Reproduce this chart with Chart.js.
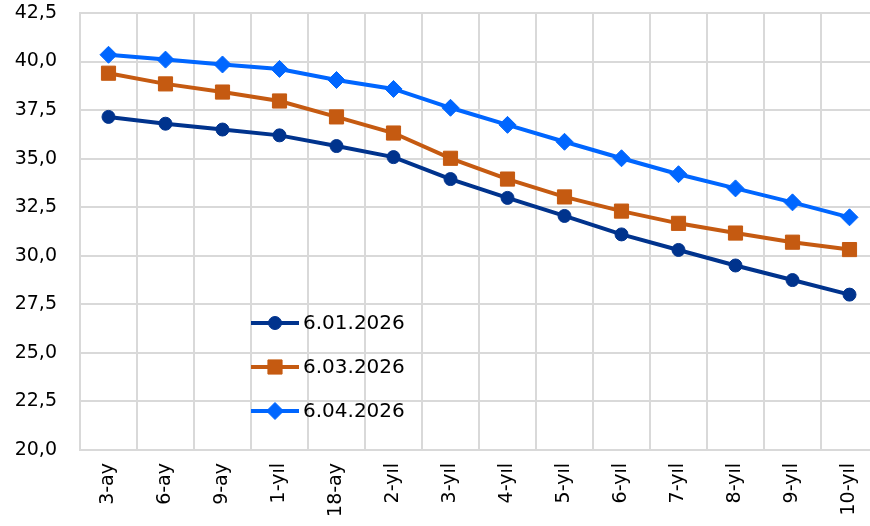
<!DOCTYPE html>
<html>
<head>
<meta charset="utf-8">
<script src="https://cdn.jsdelivr.net/npm/chart.js@4.4.1/dist/chart.umd.min.js"></script>
<style>
  html, body { margin: 0; padding: 0; background: #fff; overflow: hidden; }
  #faizCanvas { display: block; width: 870px; height: 526px; }
</style>
</head>
<body>
<canvas id="faizCanvas" width="870" height="526"></canvas>
<script>
const vadeler = ["3-ay", "6-ay", "9-ay", "1-yıl", "18-ay", "2-yıl", "3-yıl", "4-yıl", "5-yıl", "6-yıl", "7-yıl", "8-yıl", "9-yıl", "10-yıl"];
const seriOcak = [37.15, 36.8, 36.5, 36.2, 35.65, 35.08, 33.95, 32.98, 32.05, 31.1, 30.3, 29.5, 28.75, 28.0];
const seriMart = [39.4, 38.85, 38.43, 37.97, 37.15, 36.32, 35.02, 33.95, 33.03, 32.3, 31.67, 31.17, 30.7, 30.32];
const seriNisan = [40.35, 40.1, 39.85, 39.62, 39.05, 38.59, 37.62, 36.74, 35.87, 35.02, 34.2, 33.47, 32.75, 31.98];
const etiketler = ["6.01.2026", "6.03.2026", "6.04.2026"];

const fontAdi = "'DejaVu Sans', sans-serif";

// the plot runs a little past the right edge of the picture
const tasma = {
    id: "tasma",
    afterLayout(chart) {
        const fazla = 878 - chart.chartArea.right;
        chart.chartArea.right += fazla;
        chart.chartArea.width += fazla;
        const x = chart.scales.x;
        x.right += fazla;
        x.width += fazla;
        x.configure();
    }
};

// legend drawn inside the plot area
const icLegend = {
    id: "icLegend",
    afterDraw(chart) {
        const ctx = chart.ctx;
        const x0 = 251, x1 = 299, yler = [323, 367, 411];
        chart.data.datasets.forEach((ds, i) => {
            const y = yler[i];
            ctx.save();
            ctx.strokeStyle = ds.borderColor;
            ctx.fillStyle = ds.backgroundColor;
            ctx.lineWidth = 4;
            ctx.beginPath();
            ctx.moveTo(x0, y);
            ctx.lineTo(x1, y);
            ctx.stroke();
            ctx.lineWidth = 1;
            Chart.helpers.drawPoint(ctx, {
                pointStyle: ds.pointStyle,
                radius: ds.pointRadius,
                rotation: 0,
                borderWidth: 1
            }, (x0 + x1) / 2, y);
            ctx.fillStyle = "#000";
            ctx.font = "20px " + fontAdi;
            ctx.textBaseline = "middle";
            ctx.fillText(ds.label, 303, y + 1);
            ctx.restore();
        });
    }
};

function seri(label, data, renk, stil, r) {
    return {
        label: label,
        data: data,
        borderColor: renk,
        backgroundColor: renk,
        pointBackgroundColor: renk,
        pointBorderColor: renk,
        borderWidth: 4,
        pointBorderWidth: 1,
        pointStyle: stil,
        pointRadius: r,
        pointHoverRadius: r,
        tension: 0
    };
}

const faizCanvas = document.getElementById("faizCanvas");

const faizChart = new Chart(faizCanvas, {
    type: "line",
    data: {
        labels: vadeler,
        datasets: [
            seri(etiketler[0], seriOcak, "#00338D", "circle", 6.5),
            seri(etiketler[1], seriMart, "#C55A11", "rect", 10),
            seri(etiketler[2], seriNisan, "#0066FF", "rectRot", 8.5)
        ]
    },
    options: {
        responsive: false,
        animation: false,
        layout: { padding: { top: 13, right: 0, left: 0, bottom: 0 } },
        plugins: {
            legend: { display: false },
            tooltip: { enabled: false }
        },
        scales: {
            x: {
                offset: true,
                grid: { offset: true, color: "#D9D9D9", lineWidth: 2, drawTicks: false },
                border: { color: "#D9D9D9", width: 2 },
                ticks: {
                    color: "#000",
                    font: { size: 19, family: fontAdi },
                    minRotation: 90,
                    maxRotation: 90,
                    padding: 13,
                    autoSkip: false
                },
                afterFit(scale) {
                    scale.height = 76;
                    scale.paddingLeft = 0;
                    scale.paddingRight = 0;
                }
            },
            y: {
                min: 20,
                max: 42.5,
                grid: { color: "#D9D9D9", lineWidth: 2, drawTicks: false },
                border: { color: "#D9D9D9", width: 2 },
                ticks: {
                    stepSize: 2.5,
                    color: "#000",
                    font: { size: 19, family: fontAdi },
                    padding: 23,
                    callback: v => v.toFixed(1).replace(".", ",")
                },
                afterFit(scale) {
                    scale.width = 80;
                    scale.paddingTop = 0;
                    scale.paddingBottom = 0;
                }
            }
        }
    },
    plugins: [tasma, icLegend]
});
</script>
</body>
</html>
